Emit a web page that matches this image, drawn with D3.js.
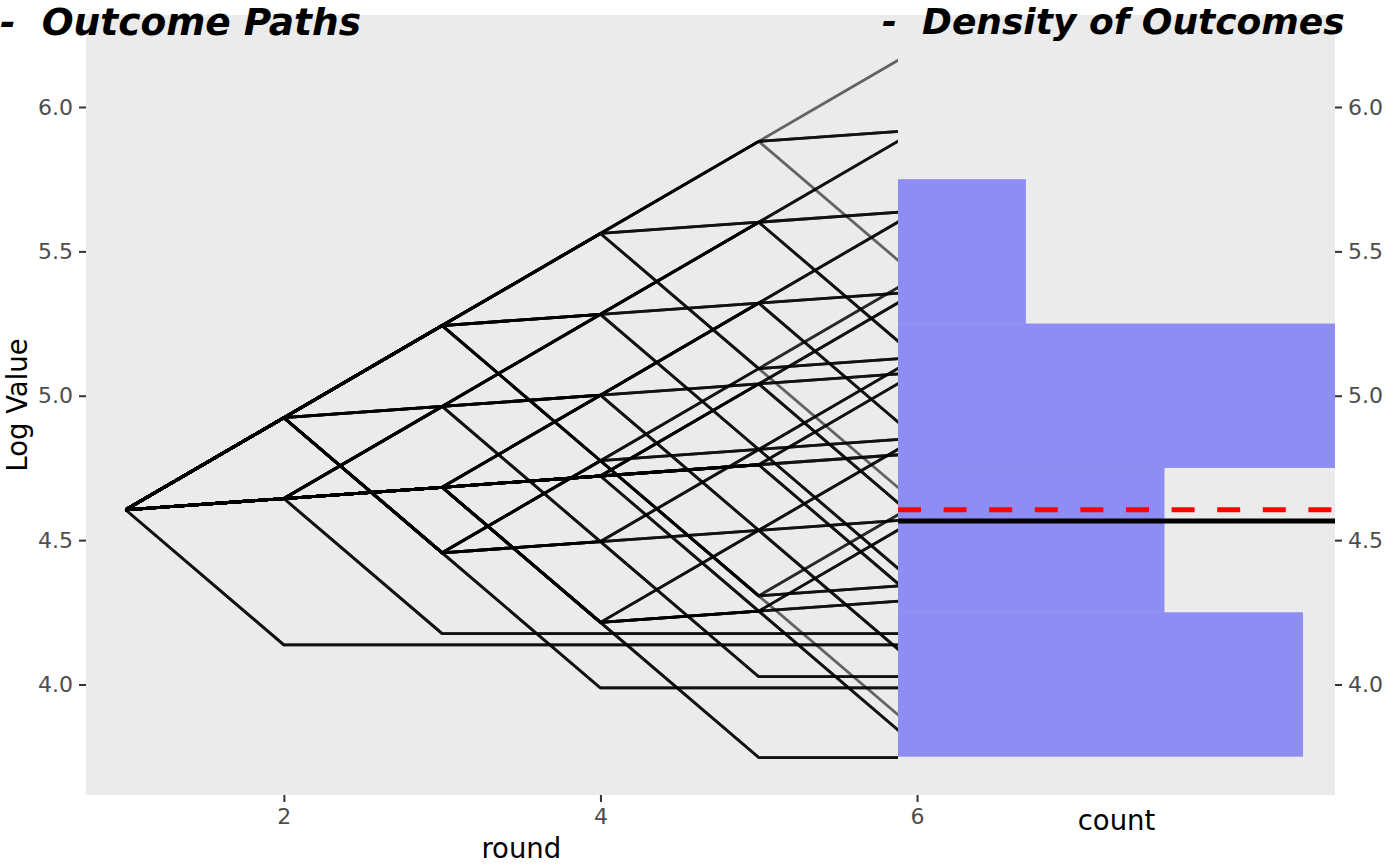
<!DOCTYPE html>
<html><head><meta charset="utf-8">
<script src="https://cdn.jsdelivr.net/npm/d3@7"></script>
<style>
body{margin:0;background:#fff}
svg{display:block}
text{font-family:"DejaVu Sans",sans-serif}
</style>
</head><body>
<svg id="chart" width="1400" height="865"></svg>
<script>
// ---- data ----
const rounds = [1, 2, 3, 4, 5, 6];
const pathValues = [
  [4.605,4.924,5.243,5.562,5.881,6.200],
  [4.605,4.924,5.243,5.562,5.881,5.920],
  [4.605,4.924,5.243,5.562,5.881,5.413],
  [4.605,4.924,5.243,5.562,5.601,5.920],
  [4.605,4.924,5.243,5.282,5.601,5.640],
  [4.605,4.924,4.963,5.282,5.601,5.133],
  [4.605,4.924,5.243,5.282,5.321,5.640],
  [4.605,4.644,4.963,5.002,5.321,5.360],
  [4.605,4.644,4.683,5.002,5.321,4.853],
  [4.605,4.644,4.683,5.002,5.041,5.360],
  [4.605,4.644,4.963,5.002,4.534,4.853],
  [4.605,4.924,5.243,5.562,5.094,5.413],
  [4.605,4.924,5.243,5.562,5.094,4.626],
  [4.605,4.924,5.243,4.775,5.094,5.133],
  [4.605,4.924,5.243,4.775,4.814,4.853],
  [4.605,4.924,4.456,4.775,4.307,4.626],
  [4.605,4.924,4.456,4.775,4.307,4.346],
  [4.605,4.924,4.456,4.775,4.307,3.839],
  [4.605,4.924,4.963,5.282,4.814,5.133],
  [4.605,4.644,4.963,4.495,4.814,4.346],
  [4.605,4.644,4.683,4.722,5.041,5.080],
  [4.605,4.644,4.683,4.722,5.041,4.573],
  [4.605,4.644,4.683,4.722,4.761,5.080],
  [4.605,4.644,4.683,4.722,4.761,4.800],
  [4.605,4.644,4.683,4.722,4.761,4.293],
  [4.605,4.924,4.456,4.495,4.534,4.573],
  [4.605,4.644,4.683,4.215,4.534,4.066],
  [4.605,4.644,4.683,4.722,4.254,4.573],
  [4.605,4.644,4.683,4.215,4.254,4.293],
  [4.605,4.644,4.683,4.215,4.254,3.786],
  [4.605,4.924,4.456,4.495,4.027,4.027],
  [4.605,4.644,4.683,4.215,3.747,3.747],
  [4.605,4.924,4.456,3.988,3.988,3.988],
  [4.605,4.644,4.176,4.176,4.176,4.176],
  [4.605,4.137,4.137,4.137,4.137,4.137]
];
const pathCounts = [1,3,1,3,3,3,3,3,3,3,3,2,1,3,3,2,3,1,3,3,3,3,3,3,3,3,3,3,3,3,3,3,3,3,3];
const binLower  = [3.75, 4.25, 4.75, 5.25];
const binUpper  = [4.25, 4.75, 5.25, 5.75];
const binCounts = [38, 25, 41, 12];
const startValue = 4.605;   // red dashed line
const meanValue  = 4.566;   // black line
const yTicks = [4.0, 4.5, 5.0, 5.5, 6.0];
const xTicks = [2, 4, 6];
const titleLeft = "-  Outcome Paths";
const titleRight = "-  Density of Outcomes";

// ---- layout ----
const svg = d3.select("#chart");
const panelTop = 15, panelBottom = 795;
const L = {x0: 86, x1: 956.6};
const R = {x0: 898, x1: 1335};

const x = d3.scaleLinear().domain([0.75, 6.25]).range([L.x0, L.x1]);
const y = d3.scaleLinear().domain([3.6173, 6.3186]).range([panelBottom, panelTop]);
const xc = d3.scaleLinear().domain([0, d3.max(binCounts)]).range([R.x0, R.x1]);

// left panel
svg.append("rect").attr("x", L.x0).attr("y", panelTop)
  .attr("width", L.x1 - L.x0).attr("height", panelBottom - panelTop).attr("fill", "#EBEBEB");

const line = d3.line().x((d, i) => x(rounds[i])).y(d => y(d));
const gLines = svg.append("g");
pathValues.forEach((p, k) => {
  for (let c = 0; c < pathCounts[k]; c++) {
    gLines.append("path").attr("d", line(p)).attr("fill", "none")
      .attr("stroke", "#000").attr("stroke-opacity", 0.58)
      .attr("stroke-width", 2.8).attr("stroke-linejoin", "round");
  }
});

// left axes
const yAxisL = d3.axisLeft(y).tickValues(yTicks).tickFormat(d3.format(".1f")).tickSize(7).tickPadding(6);
const gyl = svg.append("g").attr("transform", `translate(${L.x0},0)`).call(yAxisL);
const xAxisL = d3.axisBottom(x).tickValues(xTicks).tickFormat(d3.format("d")).tickSize(7).tickPadding(6);
const gxl = svg.append("g").attr("transform", `translate(0,${panelBottom})`).call(xAxisL);

// right panel (drawn over the left one)
svg.append("rect").attr("x", R.x0).attr("y", panelTop)
  .attr("width", R.x1 - R.x0).attr("height", panelBottom - panelTop).attr("fill", "#EBEBEB");
svg.append("g").selectAll("rect").data(binCounts).join("rect")
  .attr("x", xc(0))
  .attr("y", (d, i) => y(binUpper[i]))
  .attr("width", d => xc(d) - xc(0))
  .attr("height", (d, i) => y(binLower[i]) - y(binUpper[i]))
  .attr("fill", "blue").attr("fill-opacity", 0.4);

svg.append("line").attr("x1", R.x0).attr("x2", R.x1)
  .attr("y1", y(startValue)).attr("y2", y(startValue))
  .attr("stroke", "red").attr("stroke-width", 5).attr("stroke-dasharray", "23,22.6");
svg.append("line").attr("x1", R.x0).attr("x2", R.x1)
  .attr("y1", y(meanValue)).attr("y2", y(meanValue))
  .attr("stroke", "#000").attr("stroke-width", 5);

const yAxisR = d3.axisRight(y).tickValues(yTicks).tickFormat(d3.format(".1f")).tickSize(7).tickPadding(6);
const gyr = svg.append("g").attr("transform", `translate(${R.x1},0)`).call(yAxisR);

[gyl, gxl, gyr].forEach(g => {
  g.select(".domain").remove();
  g.selectAll(".tick line").attr("stroke", "#333").attr("stroke-width", 2);
  g.selectAll(".tick text").attr("fill", "#4D4D4D").style("font-size", "22px")
    .style("font-family", '"DejaVu Sans", sans-serif');
});

// titles
svg.append("text").attr("x", 0).attr("y", 35).text(titleLeft)
  .style("white-space", "pre")
  .style("font-size", "37.5px").style("font-weight", "bold").style("font-style", "italic");
svg.append("text").attr("x", 882).attr("y", 34).text(titleRight)
  .style("white-space", "pre")
  .style("font-size", "36px").style("font-weight", "bold").style("font-style", "italic");

// axis titles
svg.append("text").attr("x", (L.x0 + L.x1) / 2).attr("y", 858).attr("text-anchor", "middle")
  .style("font-size", "27.5px").text("round");
svg.append("text").attr("x", (R.x0 + R.x1) / 2).attr("y", 830).attr("text-anchor", "middle")
  .style("font-size", "27.5px").text("count");
svg.append("text").attr("transform", `translate(27,${(panelTop + panelBottom) / 2}) rotate(-90)`)
  .attr("text-anchor", "middle").style("font-size", "27.5px").text("Log Value");
</script>
</body></html>
